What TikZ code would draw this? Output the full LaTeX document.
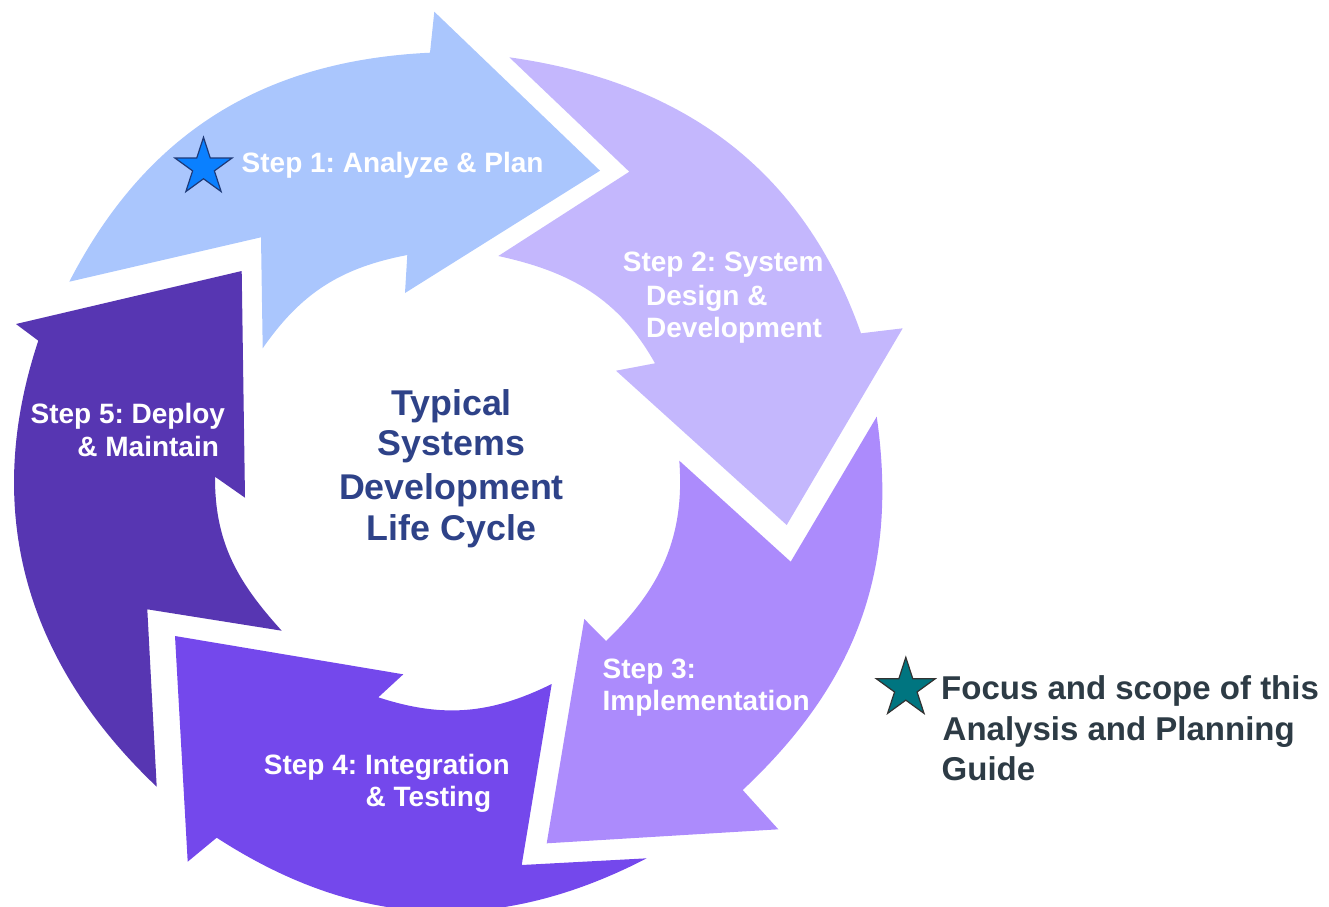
\documentclass[tikz,border=0pt]{standalone}
\usepackage{fontspec}
\setmainfont{Liberation Sans}
\usetikzlibrary{shapes.geometric}
\frenchspacing

\definecolor{phaseA}{RGB}{170,198,253}
\definecolor{phaseB}{RGB}{196,183,253}
\definecolor{phaseC}{RGB}{172,139,252}
\definecolor{phaseD}{RGB}{116,72,236}
\definecolor{phaseE}{RGB}{87,54,178}
\definecolor{titleblue}{RGB}{46,66,136}
\definecolor{notegray}{RGB}{45,59,69}
\definecolor{starblue}{RGB}{10,128,255}
\definecolor{starnavy}{RGB}{30,58,120}
\definecolor{starteal}{RGB}{0,117,128}
\definecolor{staredge}{RGB}{50,50,50}

\begin{document}
\begin{tikzpicture}[x=1pt,y=1pt,
  steplabel/.style={text=white, font=\fontsize{28}{33}\selectfont\bfseries,
    anchor=base west, inner sep=0pt},
  titlelabel/.style={text=titleblue, font=\fontsize{35.8}{42}\selectfont\bfseries,
    anchor=base, inner sep=0pt},
  notelabel/.style={text=notegray, font=\fontsize{33}{40}\selectfont\bfseries,
    anchor=base west, inner sep=0pt},
  markstar/.style={star, star points=5, star point ratio=2.618,
    inner sep=0pt, line width=1.2pt}]

\useasboundingbox (0,0) rectangle (1329,-906);
\clip (0,0) rectangle (1329,-906);

% Step 1 arrow (top, pointing right)
\fill[phaseA] (69.3,-281.7) -- (261,-237.3) -- (262.7,-348.3)
  to[out=55.3,in=190.8] (407.3,-255) -- (405,-293) -- (600,-170.7)
  -- (434.3,-11.7) -- (430,-52.7)
  to[out=182.7,in=62.7] (69.3,-281.7) -- cycle;

% Step 2 arrow (upper right, pointing down)
\fill[phaseB] (509.3,-57.3) -- (629.3,-171.7) -- (498.3,-256)
  to[out=-12.3,in=119.2] (655,-363.3) -- (616,-370.7) -- (786.7,-525)
  -- (902.7,-328.3) -- (861,-333.3)
  to[out=109.4,in=-8] (509.3,-57.3) -- cycle;

% Step 3 arrow (lower right, pointing down-left)
\fill[phaseC] (679.3,-460.7) -- (790.7,-561.7) -- (876.7,-416.7)
  to[out=-81.8,in=43.2] (742.7,-790) -- (778.3,-829.3) -- (546.7,-843.3)
  -- (584.3,-619) -- (606,-641)
  to[out=43.7,in=-85.7] (679.3,-460.7) -- cycle;

% Step 4 arrow (bottom, pointing up-left)
\fill[phaseD] (551.7,-684) -- (521.7,-865) -- (646.7,-858.3)
  to[out=-152.65,in=-32.97] (216.7,-837.7) -- (187.7,-861.7) -- (175,-636)
  -- (403.3,-674.3) -- (378.3,-697.3)
  to[out=-18.1,in=-153.7] (551.7,-684) -- cycle;

% Step 5 arrow (left, pointing up)
\fill[phaseE] (156.7,-786.7) -- (147.3,-609.3) -- (281.7,-630.7)
  to[out=132.2,in=269.7] (215,-476.7) -- (245,-497.7) -- (241.7,-271)
  -- (16,-324) -- (38.3,-340.7)
  to[out=251.6,in=136.5] (156.7,-786.7) -- cycle;

% Step labels
\node[steplabel] (s1) at (241.5,-172.3) {Step 1: Analyze \& Plan};
\node[markstar, minimum size=60pt, fill=starblue, draw=starnavy] (bluestar) at (203.5,-167.3) {};

\node[steplabel] (s2a) at (622.7,-271.7) {Step 2: System};
\node[steplabel] (s2b) at (646,-305) {Design \&};
\node[steplabel] (s2c) at (646,-337.7) {Development};

\node[steplabel] (s3a) at (602.5,-678.3) {Step 3:};
\node[steplabel] (s3b) at (602.5,-710.7) {Implementation};

\node[steplabel] (s4a) at (263.7,-774) {Step 4: Integration};
\node[steplabel] (s4b) at (365.5,-806.3) {\& Testing};

\node[steplabel] (s5a) at (30.4,-423.3) {Step 5: Deploy};
\node[steplabel] (s5b) at (77.2,-456.7) {\& Maintain};

% Centre title
\node[titlelabel] (t1) at (451.5,-415) {Typical};
\node[titlelabel] (t2) at (451.5,-455.7) {Systems};
\node[titlelabel] (t3) at (451.5,-499.3) {Development};
\node[titlelabel] (t4) at (451.5,-540.7) {Life Cycle};

% Legend note
\node[markstar, minimum size=62pt, fill=starteal, draw=staredge] (tealstar) at (905.8,-688.3) {};
\node[notelabel] (n1) at (941,-699.7) {Focus and scope of this};
\node[notelabel] (n2) at (942.5,-740.3) {Analysis and Planning};
\node[notelabel] (n3) at (941.5,-780.7) {Guide};

\end{tikzpicture}
\end{document}
